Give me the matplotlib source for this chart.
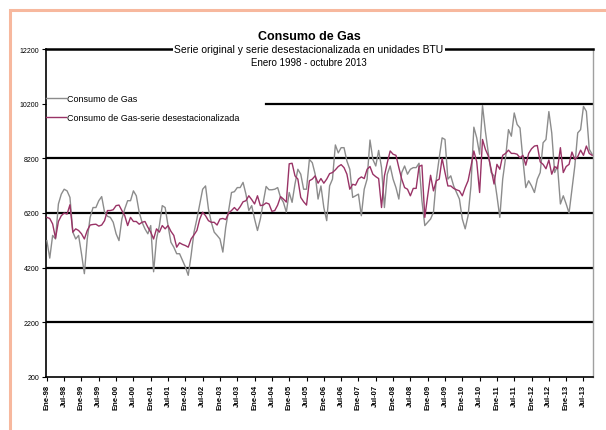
import matplotlib.pyplot as plt
from matplotlib.patches import Rectangle

plt.rcParams["font.family"] = ["Liberation Sans", "DejaVu Sans"]

# monthly values, Ene-98 .. Oct-13
consumo = [
    5190, 4550, 5380, 5250, 6530, 6890, 7070, 7010, 6770, 5500, 5250, 5380,
    4710, 3980, 5250, 6040, 6400, 6400, 6650, 6800, 6230, 6080, 6040, 5860,
    5440, 5190, 5980, 6350, 6650, 6650, 7010, 6830, 6230, 5860, 5620, 5440,
    5740, 4050, 5250, 5740, 6470, 6400, 5740, 5130, 4950, 4710, 4710, 4470,
    4230, 3920, 4650, 5500, 5980, 6530, 7070, 7190, 6350, 5860, 5500, 5380,
    5250, 4770, 5680, 6290, 6950, 6980, 7130, 7130, 7320, 6890, 6290, 6470,
    5980, 5560, 5980, 6590, 7170, 7050, 7050, 7070, 7130, 6770, 6590, 6230,
    6950, 6590, 7260, 7800, 7620, 7070, 7070, 8160, 8040, 7620, 6710, 7190,
    6400, 5920, 7190, 7440, 8690, 8400, 8590, 8590, 8100, 7800, 6770, 6830,
    6890, 6100, 7070, 7440, 8870, 8160, 7920, 8490, 7860, 6400, 7620, 7920,
    7440, 7130, 6710, 7680, 7920, 7620, 7800, 7860, 7860, 8020, 6650, 5740,
    5860, 5980, 6230, 7440, 8220, 8950, 8890, 7440, 7560, 7190, 6950, 6710,
    5980, 5620, 6100, 7190, 9340, 8950, 8350, 10130, 9190, 8400, 7680, 7560,
    6830, 6040, 7440, 8220, 9250, 9010, 9860, 9440, 9310, 8160, 7130, 7380,
    7190, 6950, 7440, 7680, 8770, 8890, 9910, 9130, 7680, 7920, 6530, 6830,
    6530, 6200, 7070, 7920, 9130, 9250, 10100, 9920, 8530, 8350,
]

desestacionalizada = [
    6040, 6000, 5800, 5280, 5890, 6100, 6200, 6160, 6500, 5500, 5620, 5560,
    5440, 5250, 5560, 5760, 5780, 5790, 5720, 5760, 5920, 6290, 6290, 6320,
    6470, 6490, 6290, 6100, 5740, 6040, 5890, 5890, 5790, 5860, 5890, 5680,
    5500, 5250, 5620, 5500, 5740, 5620, 5740, 5530, 5380, 4950, 5110, 5050,
    5010, 4950, 5250, 5400, 5560, 5980, 6230, 6100, 5920, 5860, 5860, 5760,
    5980, 6000, 5960, 6200, 6290, 6400, 6290, 6430, 6610, 6650, 6830, 6690,
    6530, 6830, 6470, 6490, 6570, 6530, 6260, 6290, 6490, 6800, 6710, 6600,
    8000, 8020, 7560, 7440, 6770, 6610, 6490, 7380, 7440, 7560, 7290, 7460,
    7290, 7440, 7640, 7680, 7780, 7900, 7970, 7860, 7620, 7070, 7250, 7220,
    7440, 7520, 7460, 7800, 7900, 7620, 7530, 7460, 6400, 7560, 8040, 8470,
    8350, 8310, 7860, 7440, 7130, 7070, 6830, 7100, 7100, 7900, 7950, 6040,
    6830, 7580, 7010, 7380, 7440, 8200, 7680, 7190, 7190, 7100, 7050, 7010,
    6830, 7130, 7380, 7900, 8470, 8070, 6950, 8890, 8530, 8290, 7800, 7260,
    7980, 7800, 8310, 8380, 8500, 8380, 8380, 8350, 8220, 8310, 7950, 8380,
    8550, 8650, 8670, 8070, 7980, 7820, 8140, 7620, 7900, 7820, 8590, 7680,
    7900, 7980, 8430, 8160, 8260, 8500, 8310, 8650, 8380, 8310,
]

tick_labels = [
    "Ene-98", "Jul-98", "Ene-99", "Jul-99", "Ene-00", "Jul-00", "Ene-01", "Jul-01",
    "Ene-02", "Jul-02", "Ene-03", "Jul-03", "Ene-04", "Jul-04", "Ene-05", "Jul-05",
    "Ene-06", "Jul-06", "Ene-07", "Jul-07", "Ene-08", "Jul-08", "Ene-09", "Jul-09",
    "Ene-10", "Jul-10", "Ene-11", "Jul-11", "Ene-12", "Jul-12", "Ene-13", "Jul-13",
]
y_ticks = [200, 2200, 4200, 6200, 8200, 10200, 12200]

fig = plt.figure(figsize=(6.06, 4.31), dpi=100)
ax = fig.add_axes([46 / 606, 1 - 378 / 431, 547 / 606, 328 / 431])

months = list(range(len(consumo)))
ax.plot(months, consumo, color="#8c8c8c", lw=1.0, label="Consumo de Gas", zorder=3)
ax.plot(months, desestacionalizada, color="#993366", lw=1.0,
        label="Consumo de Gas-serie desestacionalizada", zorder=4)

# horizontal rules; the one at 10200 is hidden behind the legend on the left
for v in y_ticks[1:-2]:
    ax.axhline(v, color="black", lw=1.6, zorder=2)
ax.axhline(y_ticks[-2], xmin=0.402, color="black", lw=1.6, zorder=2)

ax.set_xlim(-0.3, len(consumo) - 0.7)
ax.set_ylim(y_ticks[0], y_ticks[-1])
ax.set_yticks(y_ticks)
ax.set_yticklabels([str(v) for v in y_ticks], fontsize=5)
ax.set_xticks(range(0, len(consumo), 6))
ax.set_xticklabels(tick_labels, rotation=90, fontsize=5.5, fontweight="bold")
ax.tick_params(axis="both", direction="out", length=3, width=0.8, pad=2)

ax.spines["top"].set_linewidth(1.8)
ax.spines["left"].set_linewidth(1.2)
ax.spines["bottom"].set_linewidth(1.2)
ax.spines["right"].set_color("#a0a0a0")
ax.spines["right"].set_linewidth(1.0)

ax.legend(loc="upper left", bbox_to_anchor=(0, 0.862), borderaxespad=0, borderpad=0,
          frameon=False, fontsize=6.5, handlelength=2.2, handletextpad=0.1,
          labelspacing=1.1)

fig.text(0.51, 1 - 37 / 431, "Consumo de Gas", ha="center", va="center",
         fontsize=9, fontweight="bold")
fig.text(0.51, 1 - 50 / 431, "Serie original y serie desestacionalizada en unidades BTU",
         ha="center", va="center", fontsize=7.5,
         bbox=dict(facecolor="white", edgecolor="none", pad=1))
fig.text(0.51, 1 - 63 / 431, "Enero 1998 - octubre 2013", ha="center", va="center",
         fontsize=7)

# salmon page frame, cut off by the right and bottom edges
top = 1 - 10.5 / 431
fig.patches.append(Rectangle((9.5 / 606, -0.1), 1.2, top + 0.1,
                             transform=fig.transFigure, fill=False,
                             edgecolor="#f7b89e", lw=2.2))

fig.savefig("out.png", dpi=100)
